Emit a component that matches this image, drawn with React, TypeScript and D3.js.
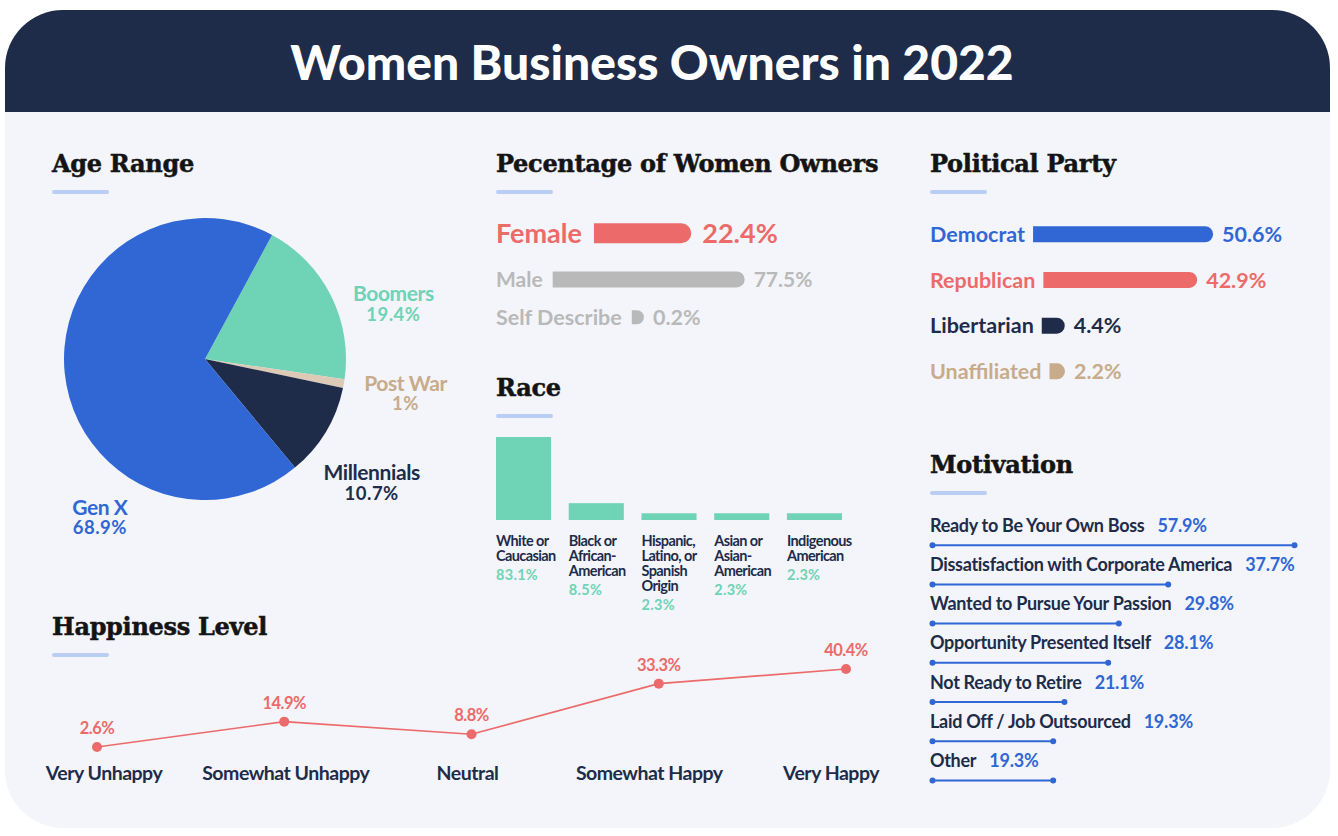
import React, { useEffect, useRef } from "react";
import * as d3 from "d3";

const W = 1338;
const H = 836;

const TITLE = "Women Business Owners in 2022";

// Age range (pie)
const ageCategories = ["Boomers", "Post War", "Millennials", "Gen X"];
const ageValues = [19.4, 1, 10.7, 68.9];

// Percentage of women owners
const genderCategories = ["Female", "Male", "Self Describe"];
const genderValues = [22.4, 77.5, 0.2];

// Political party
const partyCategories = ["Democrat", "Republican", "Libertarian", "Unaffiliated"];
const partyValues = [50.6, 42.9, 4.4, 2.2];

// Race
const raceCategories = [
  "White or Caucasian",
  "Black or African-American",
  "Hispanic, Latino, or Spanish Origin",
  "Asian or Asian-American",
  "Indigenous American",
];
const raceLabelLines = [
  ["White or", "Caucasian"],
  ["Black or", "African-", "American"],
  ["Hispanic,", "Latino, or", "Spanish", "Origin"],
  ["Asian or", "Asian-", "American"],
  ["Indigenous", "American"],
];
const raceValues = [83.1, 8.5, 2.3, 2.3, 2.3];

// Happiness level
const happinessCategories = ["Very Unhappy", "Somewhat Unhappy", "Neutral", "Somewhat Happy", "Very Happy"];
const happinessValues = [2.6, 14.9, 8.8, 33.3, 40.4];

// Motivation
const motivationCategories = [
  "Ready to Be Your Own Boss",
  "Dissatisfaction with Corporate America",
  "Wanted to Pursue Your Passion",
  "Opportunity Presented Itself",
  "Not Ready to Retire",
  "Laid Off / Job Outsourced",
  "Other",
];
const motivationValues = [57.9, 37.7, 29.8, 28.1, 21.1, 19.3, 19.3];

// Colours
const NAVY = "#1e2c4a";
const BLUE = "#3167d5";
const MINT = "#6fd3b5";
const RED = "#ec6b6a";
const BEIGE_TXT = "#c8ab8a";
const BEIGE = "#dccab6";
const GREY = "#b9b9b9";
const CARD = "#f3f5fa";
const ACCENT = "#b9cef2";

const SANS = "Lato, 'Open Sans', sans-serif";
const SERIF = "'DejaVu Serif', 'Liberation Serif', serif";

const pct = (v: number) => `${v}%`;

type G = d3.Selection<SVGGElement, unknown, null, undefined>;

function heading(g: G, x: number, y: number, label: string) {
  g.append("text")
    .attr("x", x)
    .attr("y", y)
    .attr("font-family", SERIF)
    .attr("font-weight", 700)
    .attr("font-size", 24)
    .attr("letter-spacing", -0.3)
    .attr("fill", "#141414")
    .attr("stroke", "#141414")
    .attr("stroke-width", 0.5)
    .text(label);
  g.append("rect")
    .attr("x", x)
    .attr("y", y + 18)
    .attr("width", 57)
    .attr("height", 4)
    .attr("rx", 2)
    .attr("fill", ACCENT);
}

function roundedRightBar(x: number, y: number, w: number, h: number) {
  const r = Math.min(h / 2, w);
  return (
    `M${x},${y}H${x + w - r}A${r},${r} 0 0 1 ${x + w},${y + r}` +
    (h > 2 * r ? `V${y + h - r}` : "") +
    `A${r},${r} 0 0 1 ${x + w - r},${y + h}H${x}Z`
  );
}

function barRow(
  g: G,
  o: {
    x: number;
    y: number;
    label: string;
    value: number;
    color: string;
    textColor: string;
    fontSize: number;
    barW: number;
    barH: number;
    gapL: number;
    gapR: number;
  }
) {
  const t = g
    .append("text")
    .attr("x", o.x)
    .attr("y", o.y)
    .attr("font-family", SANS)
    .attr("font-weight", 700)
    .attr("font-size", o.fontSize)
    .attr("fill", o.textColor)
    .text(o.label);
  const tw = (t.node() as SVGTextElement).getComputedTextLength();
  const bx = o.x + tw + o.gapL;
  const cy = o.y - o.fontSize * 0.36;
  g.append("path").attr("d", roundedRightBar(bx, cy - o.barH / 2, o.barW, o.barH)).attr("fill", o.color);
  g.append("text")
    .attr("x", bx + o.barW + o.gapR)
    .attr("y", o.y)
    .attr("font-family", SANS)
    .attr("font-weight", 700)
    .attr("font-size", o.fontSize)
    .attr("fill", o.textColor)
    .text(pct(o.value));
}

function draw(svgEl: SVGSVGElement) {
  const svg = d3.select(svgEl);
  svg.selectAll("*").remove();
  const root = svg.append("g") as unknown as G;

  // Card and header
  root.append("rect").attr("x", 5).attr("y", 10).attr("width", 1325).attr("height", 818).attr("rx", 58).attr("fill", CARD);
  root
    .append("path")
    .attr("d", "M5,112V68A58,58 0 0 1 63,10H1272A58,58 0 0 1 1330,68V112Z")
    .attr("fill", NAVY);
  root
    .append("text")
    .attr("x", 652)
    .attr("y", 80)
    .attr("text-anchor", "middle")
    .attr("font-family", SANS)
    .attr("font-weight", 900)
    .attr("font-size", 48)
    .attr("fill", "#ffffff")
    .text(TITLE);

  // ---------- Age Range pie ----------
  heading(root, 52, 172, "Age Range");
  const pieColors = [MINT, BEIGE, NAVY, BLUE];
  const labelColors = [MINT, BEIGE_TXT, NAVY, BLUE];
  const start = (28.4 * Math.PI) / 180;
  const pie = d3
    .pie<number>()
    .sort(null)
    .value((d) => d)
    .startAngle(start)
    .endAngle(start + 2 * Math.PI);
  const arc = d3.arc<d3.PieArcDatum<number>>().innerRadius(0).outerRadius(141);
  const pg = root.append("g").attr("transform", "translate(205,359)");
  pg.selectAll("path")
    .data(pie(ageValues))
    .join("path")
    .attr("d", arc)
    .attr("fill", (_d, i) => pieColors[i]);
  const labelPlacement = [
    { a: 73, r: 197 },
    { a: 99, r: 203 },
    { a: 126, r: 206 },
    { a: 214, r: 188 },
  ];
  ageCategories.forEach((c, i) => {
    const a = (labelPlacement[i].a * Math.PI) / 180;
    const lx = Math.sin(a) * labelPlacement[i].r;
    const ly = -Math.cos(a) * labelPlacement[i].r;
    const t = pg
      .append("text")
      .attr("text-anchor", "middle")
      .attr("font-family", SANS)
      .attr("font-weight", 700)
      .attr("font-size", 21)
      .attr("letter-spacing", -0.4)
      .attr("fill", labelColors[i]);
    t.append("tspan").attr("x", lx).attr("y", ly).text(c);
    t.append("tspan").attr("x", lx).attr("y", ly + 19.5).attr("font-size", 18.5).attr("letter-spacing", 0.5).text(pct(ageValues[i]));
  });

  // ---------- Percentage of Women Owners ----------
  heading(root, 496, 172, "Pecentage of Women Owners");
  const gScale = d3.scalePow().exponent(0.6).domain([0, 77.5]).range([0, 184]);
  const genderStyle = [
    { y: 243, fs: 27, color: RED, text: RED, h: 20, gapL: 12, gapR: 11 },
    { y: 287, fs: 21, color: GREY, text: GREY, h: 16, gapL: 10, gapR: 9 },
    { y: 325, fs: 21.5, color: GREY, text: GREY, h: 14, gapL: 10, gapR: 9 },
  ];
  genderCategories.forEach((c, i) => {
    const s = genderStyle[i];
    barRow(root, {
      x: 496,
      y: s.y,
      label: c,
      value: genderValues[i],
      color: s.color,
      textColor: s.text,
      fontSize: s.fs,
      barW: gScale(genderValues[i]) + s.h / 2,
      barH: s.h,
      gapL: s.gapL,
      gapR: s.gapR,
    });
  });

  // ---------- Political Party ----------
  heading(root, 930, 172, "Political Party");
  const pScale = d3.scaleLinear().domain([0, 50.6]).range([0, 172]);
  const partyColors = [BLUE, RED, NAVY, BEIGE_TXT];
  partyCategories.forEach((c, i) => {
    barRow(root, {
      x: 930,
      y: 242 + i * 45.7,
      label: c,
      value: partyValues[i],
      color: partyColors[i],
      textColor: partyColors[i],
      fontSize: 21.5,
      barW: pScale(partyValues[i]) + 8,
      barH: 16,
      gapL: 8,
      gapR: 9,
    });
  });

  // ---------- Race ----------
  heading(root, 496, 396, "Race");
  const rx = d3.scaleBand<string>().domain(raceCategories).range([496, 842]).paddingInner(0.243).paddingOuter(0);
  const ry = d3.scalePow().exponent(0.7).domain([0, 83.1]).range([520, 437]);
  root
    .append("g")
    .selectAll("rect")
    .data(raceValues)
    .join("rect")
    .attr("x", (_d, i) => rx(raceCategories[i]) as number)
    .attr("y", (d) => ry(d))
    .attr("width", rx.bandwidth())
    .attr("height", (d) => 520 - ry(d))
    .attr("fill", MINT);
  raceCategories.forEach((c, i) => {
    const x = rx(c) as number;
    const lines = raceLabelLines[i];
    const t = root
      .append("text")
      .attr("font-family", SANS)
      .attr("font-weight", 700)
      .attr("font-size", 14.5)
      .attr("letter-spacing", -0.6)
      .attr("fill", NAVY);
    lines.forEach((l, j) => {
      t.append("tspan").attr("x", x).attr("y", 546 + j * 15).text(l);
    });
    root
      .append("text")
      .attr("x", x)
      .attr("y", 546 + (lines.length - 1) * 15 + 19)
      .attr("font-family", SANS)
      .attr("font-weight", 700)
      .attr("font-size", 14.5)
      .attr("letter-spacing", 0.3)
      .attr("fill", MINT)
      .text(pct(raceValues[i]));
  });

  // ---------- Happiness Level ----------
  heading(root, 52, 635, "Happiness Level");
  const hx = d3.scalePoint<string>().domain(happinessCategories).range([97, 846]);
  const hxLabel = d3.scalePoint<string>().domain(happinessCategories).range([104, 831]);
  const hy = d3.scaleLinear().domain([0, 40.4]).range([752.4, 669]);
  const line = d3
    .line<number>()
    .x((_d, i) => hx(happinessCategories[i]) as number)
    .y((d) => hy(d));
  root.append("path").attr("d", line(happinessValues)).attr("fill", "none").attr("stroke", RED).attr("stroke-width", 1.6);
  happinessValues.forEach((v, i) => {
    const x = hx(happinessCategories[i]) as number;
    root.append("circle").attr("cx", x).attr("cy", hy(v)).attr("r", 5).attr("fill", RED);
    root
      .append("text")
      .attr("x", x)
      .attr("y", hy(v) - 13)
      .attr("text-anchor", "middle")
      .attr("font-family", SANS)
      .attr("font-weight", 700)
      .attr("font-size", 16.5)
      .attr("letter-spacing", -0.5)
      .attr("fill", RED)
      .text(pct(v));
    root
      .append("text")
      .attr("x", hxLabel(happinessCategories[i]) as number)
      .attr("y", 780)
      .attr("text-anchor", "middle")
      .attr("font-family", SANS)
      .attr("font-weight", 700)
      .attr("font-size", 19.5)
      .attr("letter-spacing", -0.5)
      .attr("fill", NAVY)
      .text(happinessCategories[i]);
  });

  // ---------- Motivation ----------
  heading(root, 930, 473, "Motivation");
  const mScale = d3.scaleLinear().domain([0, 57.9]).range([0, 362]);
  motivationCategories.forEach((c, i) => {
    const by = 531.7 + i * 39.2;
    const t = root
      .append("text")
      .attr("x", 930)
      .attr("y", by)
      .attr("font-family", SANS)
      .attr("font-weight", 700)
      .attr("font-size", 18)
      .attr("letter-spacing", -0.3)
      .attr("fill", NAVY)
      .text(c);
    const tw = (t.node() as SVGTextElement).getComputedTextLength();
    root
      .append("text")
      .attr("x", 930 + tw + 13)
      .attr("y", by)
      .attr("font-family", SANS)
      .attr("font-weight", 700)
      .attr("font-size", 18)
      .attr("letter-spacing", -0.2)
      .attr("fill", BLUE)
      .text(pct(motivationValues[i]));
    const ly = by + 13.5;
    const x0 = 932.5;
    const x1 = x0 + mScale(motivationValues[i]);
    root.append("line").attr("x1", x0).attr("x2", x1).attr("y1", ly).attr("y2", ly).attr("stroke", BLUE).attr("stroke-width", 2);
    root.append("circle").attr("cx", x0).attr("cy", ly).attr("r", 3).attr("fill", BLUE);
    root.append("circle").attr("cx", x1).attr("cy", ly).attr("r", 3).attr("fill", BLUE);
  });
}

export default function App() {
  const ref = useRef<SVGSVGElement>(null);
  useEffect(() => {
    if (ref.current) draw(ref.current);
  }, []);
  return (
    <div style={{ position: "absolute", left: 0, top: 0, width: W, height: H, background: "#ffffff" }}>
      <svg ref={ref} width={W} height={H} style={{ display: "block" }} />
    </div>
  );
}
